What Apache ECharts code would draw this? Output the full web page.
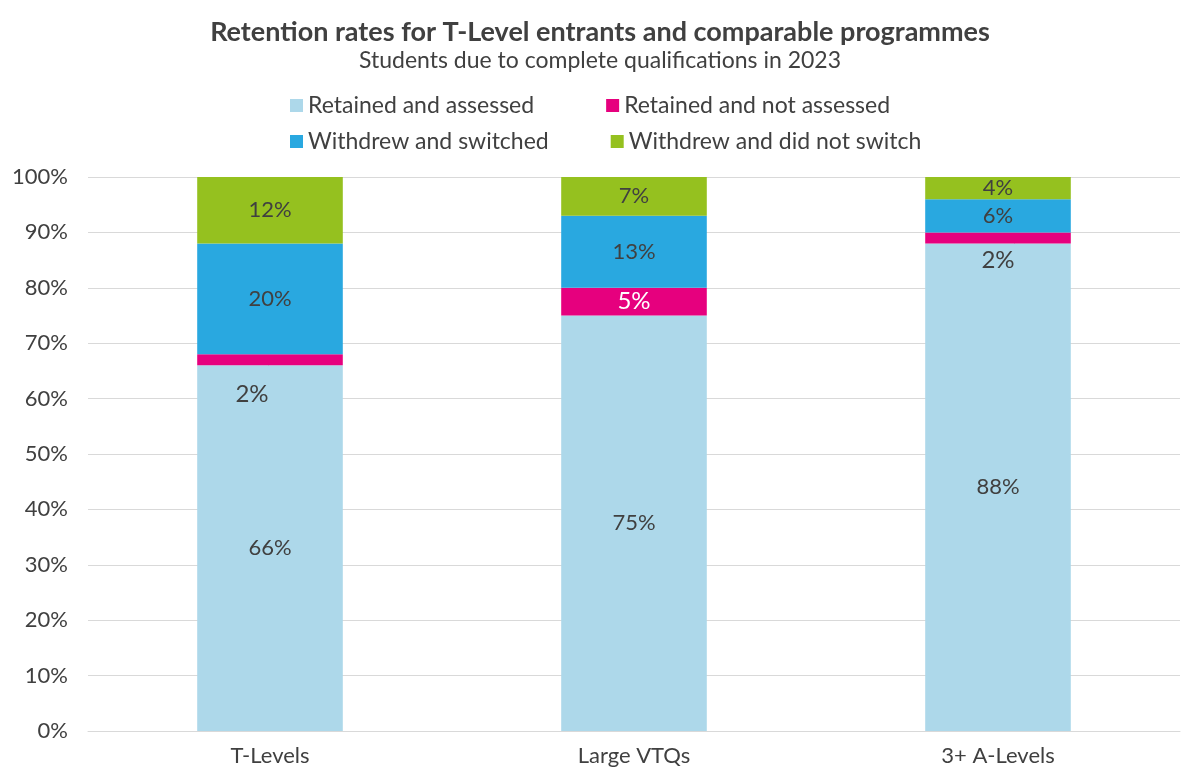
<!DOCTYPE html>
<html><head><meta charset="utf-8">
<script src="https://cdn.jsdelivr.net/npm/echarts@6/dist/echarts.min.js"></script>
<style>html,body{margin:0;background:#fff}#c{width:1200px;height:783px}</style>
</head><body><div id="c"></div>
<script>
const categories = ['T-Levels','Large VTQs','3+ A-Levels'];
const retainedAssessed = [66,75,88];
const retainedNotAssessed = [2,5,2];
const withdrewSwitched = [20,13,6];
const withdrewNotSwitch = [12,7,4];
const yTicks = [0,10,20,30,40,50,60,70,80,90,100];

const F = 'Lato, "Open Sans", sans-serif';
const txt = '#404040';
function lbl(extra){return Object.assign({show:true,position:'inside',formatter:p=>p.value+'%',color:txt,fontSize:22,fontFamily:F},extra||{});}
const chart = echarts.init(document.getElementById('c'));
chart.setOption({
  animation:false,
  title:[{text:'Retention rates for T-Level entrants and comparable programmes',left:'center',top:14,textStyle:{fontFamily:F,fontSize:27,fontWeight:'bold',color:txt}},
         {text:'Students due to complete qualifications in 2023',left:'center',top:44,textStyle:{fontFamily:F,fontSize:23,fontWeight:'normal',color:txt}}],
  legend:[{data:['Retained and assessed','Retained and not assessed'],left:285,top:89,itemGap:72,itemWidth:13,itemHeight:13,icon:'rect',textStyle:{fontFamily:F,fontSize:23,color:txt}},
          {data:['Withdrew and switched','Withdrew and did not switch'],left:285,top:125,itemGap:62,itemWidth:13,itemHeight:13,icon:'rect',textStyle:{fontFamily:F,fontSize:23,color:txt}}],
  grid:{left:88,right:20,top:177,bottom:52},
  xAxis:{type:'category',data:categories,axisTick:{show:false},axisLine:{lineStyle:{color:'#d9d9d9'}},axisLabel:{fontFamily:F,fontSize:22,color:txt,margin:14}},
  yAxis:{type:'value',min:0,max:100,interval:10,axisLabel:{formatter:v=>v+'%',fontFamily:F,fontSize:22,color:txt,margin:20},splitLine:{lineStyle:{color:'#d9d9d9'}}},
  series:[
    {name:'Retained and assessed',type:'bar',stack:'s',barWidth:'40%',data:retainedAssessed,itemStyle:{color:'#add8ea'},label:lbl()},
    {name:'Retained and not assessed',type:'bar',stack:'s',data:retainedNotAssessed.map((v,i)=>i===1?v:{value:v,label:{position:'bottom',color:txt,fontSize:24,offset:i===0?[-18,12]:[0,0]}}),itemStyle:{color:'#e6007e'},
      label:lbl({color:'#fff',fontSize:24}),labelLine:{show:true,lineStyle:{color:'#999'}}},
    {name:'Withdrew and switched',type:'bar',stack:'s',data:withdrewSwitched,itemStyle:{color:'#29a8e0'},label:lbl()},
    {name:'Withdrew and did not switch',type:'bar',stack:'s',data:withdrewNotSwitch,itemStyle:{color:'#95c11f'},label:lbl()}
  ]
});
</script></body></html>
